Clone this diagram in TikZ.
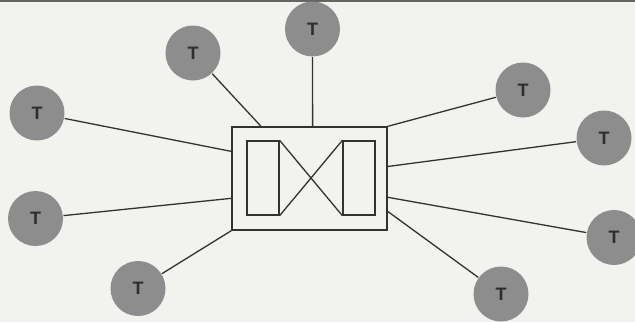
\documentclass[tikz,border=0pt]{standalone}
\usepackage{fontspec}
\setsansfont{Liberation Sans}
\usetikzlibrary{calc,positioning}
\definecolor{paper}{RGB}{242,242,239}
\definecolor{termgray}{RGB}{141,141,141}
\definecolor{ink}{RGB}{50,50,50}

\begin{document}
\begin{tikzpicture}[x=1pt,y=-1pt,line width=1.3pt,color=ink,
		term/.style={circle,fill=termgray,minimum size=55pt,inner sep=0pt,
			font=\sffamily\bfseries\fontsize{18}{18}\selectfont,text=ink!90!black},
		port/.style={draw,inner sep=0pt,minimum width=32pt,minimum height=74pt}]
			\fill[paper] (0,0) rectangle (635,322);
			\useasboundingbox (0,0) rectangle (635,322);
			\draw[line width=1.6pt,ink!75] (0,0.8) -- (635,0.8);
			\node[draw,inner sep=0pt,minimum width=155pt,minimum height=103pt] (sw) at (309.5,178.5) {};
			\node[port] (p_l) at (263,178) {};
			\node[port] (p_r) at (359,178) {};
			\draw (p_l.north east) -- (p_r.south west)
				(p_l.south east) -- (p_r.north west);
			\node[term] (t_1) at (37,113) {T};
			\node[term] (t_2) at (193,53) {T};
			\node[term] (t_3) at (312.5,29) {T};
			\node[term] (t_4) at (523,90) {T};
			\node[term] (t_5) at (604,138) {T};
			\node[term] (t_6) at (614,237.5) {T};
			\node[term] (t_7) at (501,294) {T};
			\node[term] (t_8) at (138,288.5) {T};
			\node[term] (t_9) at (35.5,218.5) {T};
			\coordinate (a_1) at ($(sw.north west)!.24!(sw.south west)$);
			\coordinate (a_2) at ($(sw.north west)!.19!(sw.north east)$);
			\coordinate (a_3) at ($(sw.north west)!.52!(sw.north east)$);
			\coordinate (a_4) at (sw.north east);
			\coordinate (a_5) at ($(sw.north east)!.385!(sw.south east)$);
			\coordinate (a_6) at ($(sw.north east)!.68!(sw.south east)$);
			\coordinate (a_7) at ($(sw.north east)!.815!(sw.south east)$);
			\coordinate (a_8) at (sw.south west);
			\coordinate (a_9) at ($(sw.north west)!.69!(sw.south west)$);
			\path[-]
				(t_1) edge (a_1)
				(t_2) edge (a_2)
				(t_3) edge (a_3)
				(t_4) edge (a_4)
				(t_5) edge (a_5)
				(t_6) edge (a_6)
				(t_7) edge (a_7)
				(t_8) edge (a_8)
				(t_9) edge (a_9);
		\end{tikzpicture}
\end{document}
